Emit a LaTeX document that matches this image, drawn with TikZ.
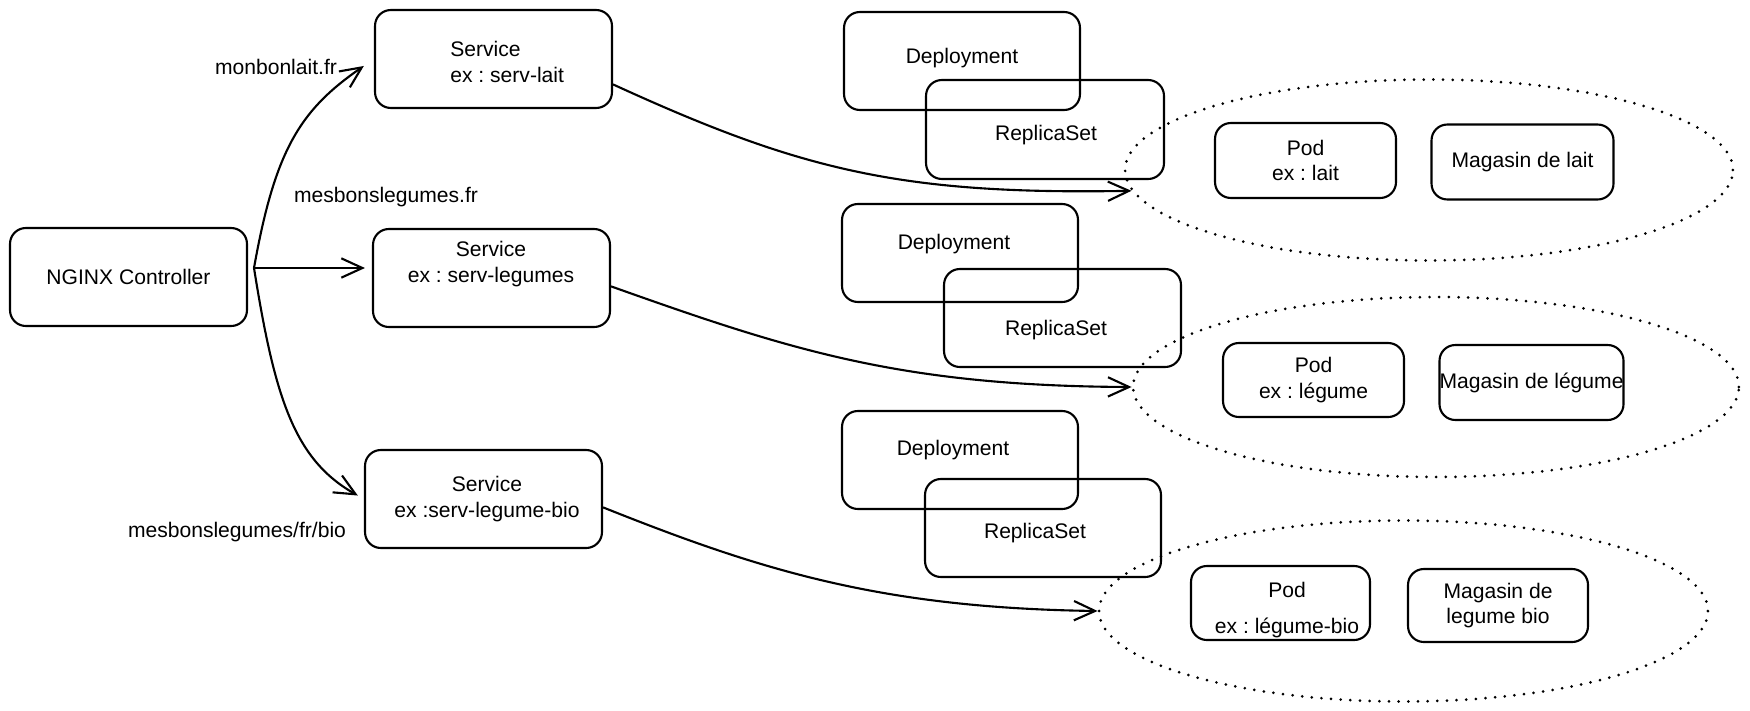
\documentclass[tikz,border=0pt]{standalone}
\usepackage{fontspec}
\setmainfont{Liberation Sans}
\usetikzlibrary{arrows.meta,shapes.geometric}
\frenchspacing
\begin{document}
\begin{tikzpicture}[x=0.02cm,y=-0.02cm,
  box/.style={draw, line width=1.2pt, rounded corners=9pt, inner sep=0pt},
  txt/.style={font=\fontsize{12}{14.5}\selectfont\frenchspacing, align=center, inner sep=0pt},
  conn/.style={line width=1.2pt, -{Straight Barb[length=12pt,width=11pt]}},
  grp/.style={draw, ellipse, inner sep=0pt, line width=1.7pt, dash pattern=on 0pt off 5.5pt, line cap=round}]
\useasboundingbox (0,0) rectangle (1750,710);

% NGINX
\node[box, txt, minimum width=4.74cm, minimum height=1.96cm] (nginx) at (128.5,277) {NGINX Controller};

% Services
\node[box, minimum width=4.74cm, minimum height=1.96cm] (s1) at (493.5,59) {};
\node[txt, anchor=west, align=left] (s1t) at (450,62) {Service\\ex : serv-lait};
\node[box, minimum width=4.74cm, minimum height=1.96cm] (s2) at (491.5,278) {};
\node[txt] (s2t) at (491,264) {Service\\ex : serv-legumes};
\node[box, minimum width=4.74cm, minimum height=1.96cm] (s3) at (483.5,499) {};
\node[txt] (s3t) at (487,499) {Service\\ex :serv-legume-bio};

% Deployments and ReplicaSets
\node[box, minimum width=4.72cm, minimum height=1.96cm] (d1) at (962,61) {};
\node[txt] (d1t) at (962,58) {Deployment};
\node[box, minimum width=4.76cm, minimum height=1.98cm] (r1) at (1045,129.5) {};
\node[txt] (r1t) at (1046,135) {ReplicaSet};

\node[box, minimum width=4.72cm, minimum height=1.96cm] (d2) at (960,253) {};
\node[txt] (d2t) at (954,244) {Deployment};
\node[box, minimum width=4.74cm, minimum height=1.96cm] (r2) at (1062.5,318) {};
\node[txt] (r2t) at (1056,330) {ReplicaSet};

\node[box, minimum width=4.72cm, minimum height=1.96cm] (d3) at (960,460) {};
\node[txt] (d3t) at (953,450) {Deployment};
\node[box, minimum width=4.72cm, minimum height=1.96cm] (r3) at (1043,528) {};
\node[txt] (r3t) at (1035,533) {ReplicaSet};

% Groups (dotted ellipses)
\node[grp, minimum width=12.16cm, minimum height=3.62cm] (e1) at (1429,170) {};
\node[grp, minimum width=12.12cm, minimum height=3.6cm] (e2) at (1436,387) {};
\node[grp, minimum width=12.18cm, minimum height=3.62cm] (e3) at (1403.5,611) {};

% Pods and stores
\node[box, txt, minimum width=3.62cm, minimum height=1.5cm] (p1) at (1305.5,160.5) {Pod\\ex : lait};
\node[box, txt, minimum width=3.64cm, minimum height=1.5cm] (m1) at (1522.5,162) {Magasin de lait};
\node[box, txt, minimum width=3.62cm, minimum height=1.48cm] (p2) at (1313.5,380) {Pod\\ex : légume};
\node[box, txt, minimum width=3.62cm, minimum height=1.5cm] (m2) at (1531.5,382.5) {Magasin de légume};
\node[box, minimum width=3.58cm, minimum height=1.48cm] (p3) at (1280.5,603) {};
\node[txt] (p3t) at (1287,610) {Pod\\[6pt]ex : légume-bio};
\node[box, txt, minimum width=3.6cm, minimum height=1.46cm] (m3) at (1498,605.5) {Magasin de\\legume bio};

% Host labels
\node[txt] (l1) at (276,67) {monbonlait.fr};
\node[txt] (l2) at (386,197) {mesbonslegumes.fr};
\node[txt] (l3) at (237,532) {mesbonslegumes/fr/bio};

% Connectors from NGINX
\coordinate (hub) at (254,268);
\draw[conn, shorten >=7pt] (hub) .. controls (275,150) and (300,110) .. (s1.west);
\draw[conn, shorten >=4pt] (hub) -- (s2.west |- hub);
\draw[conn, shorten >=4pt] (hub) .. controls (275,400) and (295,460) .. (s3.west);

% Connectors from services to groups
\draw[conn] (s1.-12) .. controls (800,170) and (900,195) .. (e1.184);
\draw[conn] (s2.-4) .. controls (790,350) and (900,386) .. (e2.west);
\draw[conn] (s3.-4) .. controls (760,570) and (880,608) .. (e3.west);
\end{tikzpicture}
\end{document}
